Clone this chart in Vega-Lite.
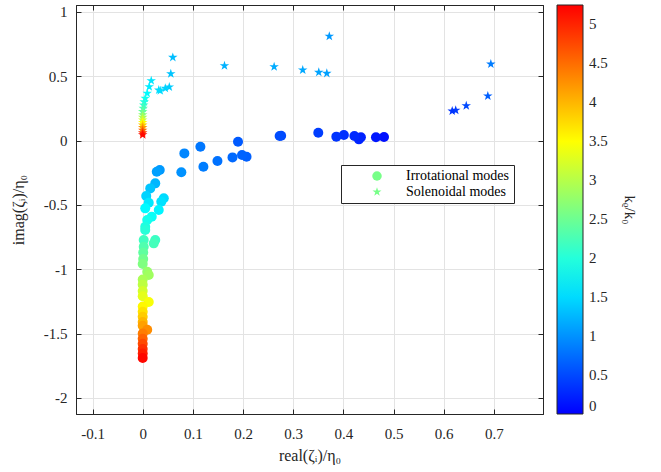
{
  "$schema": "https://vega.github.io/schema/vega-lite/v6.json",
  "width": 467,
  "height": 409,
  "autosize": {"type": "none"},
  "padding": {"left": 76, "top": 5, "right": 118, "bottom": 58},
  "background": "white",
  "config": {
    "font": "Liberation Serif",
    "view": {"stroke": "#262626", "strokeWidth": 1},
    "axis": {
      "labelFontSize": 15,
      "titleFontSize": 16,
      "labelColor": "#262626",
      "titleColor": "#262626",
      "titleFontWeight": "normal",
      "domainColor": "#262626",
      "tickColor": "#262626",
      "gridColor": "#e3e3e3",
      "tickSize": -5
    },
    "legend": {
      "labelColor": "#262626",
      "titleColor": "#262626",
      "titleFontWeight": "normal"
    }
  },
  "datasets": {
    "irrot": [
      {"mode": "Irrotational modes", "x": 0.481, "y": 0.027, "k": 0.10},
      {"mode": "Irrotational modes", "x": 0.465, "y": 0.025, "k": 0.15},
      {"mode": "Irrotational modes", "x": 0.435, "y": 0.025, "k": 0.22},
      {"mode": "Irrotational modes", "x": 0.431, "y": 0.009, "k": 0.25},
      {"mode": "Irrotational modes", "x": 0.422, "y": 0.035, "k": 0.28},
      {"mode": "Irrotational modes", "x": 0.401, "y": 0.043, "k": 0.32},
      {"mode": "Irrotational modes", "x": 0.386, "y": 0.030, "k": 0.36},
      {"mode": "Irrotational modes", "x": 0.350, "y": 0.061, "k": 0.42},
      {"mode": "Irrotational modes", "x": 0.276, "y": 0.037, "k": 0.50},
      {"mode": "Irrotational modes", "x": 0.273, "y": 0.035, "k": 0.52},
      {"mode": "Irrotational modes", "x": 0.190, "y": -0.009, "k": 0.62},
      {"mode": "Irrotational modes", "x": 0.207, "y": -0.126, "k": 0.66},
      {"mode": "Irrotational modes", "x": 0.198, "y": -0.113, "k": 0.68},
      {"mode": "Irrotational modes", "x": 0.179, "y": -0.131, "k": 0.72},
      {"mode": "Irrotational modes", "x": 0.149, "y": -0.159, "k": 0.78},
      {"mode": "Irrotational modes", "x": 0.115, "y": -0.048, "k": 0.82},
      {"mode": "Irrotational modes", "x": 0.121, "y": -0.204, "k": 0.86},
      {"mode": "Irrotational modes", "x": 0.083, "y": -0.100, "k": 0.92},
      {"mode": "Irrotational modes", "x": 0.077, "y": -0.247, "k": 1.00},
      {"mode": "Irrotational modes", "x": 0.034, "y": -0.229, "k": 1.05},
      {"mode": "Irrotational modes", "x": 0.028, "y": -0.242, "k": 1.10},
      {"mode": "Irrotational modes", "x": 0.025, "y": -0.333, "k": 1.25},
      {"mode": "Irrotational modes", "x": 0.015, "y": -0.372, "k": 1.35},
      {"mode": "Irrotational modes", "x": 0.007, "y": -0.431, "k": 1.45},
      {"mode": "Irrotational modes", "x": 0.042, "y": -0.449, "k": 1.50},
      {"mode": "Irrotational modes", "x": 0.037, "y": -0.476, "k": 1.55},
      {"mode": "Irrotational modes", "x": 0.012, "y": -0.483, "k": 1.60},
      {"mode": "Irrotational modes", "x": 0.032, "y": -0.540, "k": 1.68},
      {"mode": "Irrotational modes", "x": 0.005, "y": -0.527, "k": 1.72},
      {"mode": "Irrotational modes", "x": 0.018, "y": -0.592, "k": 1.80},
      {"mode": "Irrotational modes", "x": 0.009, "y": -0.618, "k": 1.88},
      {"mode": "Irrotational modes", "x": 0.005, "y": -0.670, "k": 1.95},
      {"mode": "Irrotational modes", "x": 0.005, "y": -0.695, "k": 2.02},
      {"mode": "Irrotational modes", "x": 0.025, "y": -0.773, "k": 2.15},
      {"mode": "Irrotational modes", "x": 0.002, "y": -0.773, "k": 2.18},
      {"mode": "Irrotational modes", "x": 0.022, "y": -0.799, "k": 2.22},
      {"mode": "Irrotational modes", "x": 0.002, "y": -0.825, "k": 2.30},
      {"mode": "Irrotational modes", "x": 0.001, "y": -0.870, "k": 2.40},
      {"mode": "Irrotational modes", "x": 0.001, "y": -0.920, "k": 2.52},
      {"mode": "Irrotational modes", "x": 0.000, "y": -0.960, "k": 2.62},
      {"mode": "Irrotational modes", "x": 0.009, "y": -1.020, "k": 2.78},
      {"mode": "Irrotational modes", "x": 0.012, "y": -1.045, "k": 2.85},
      {"mode": "Irrotational modes", "x": 0.000, "y": -1.080, "k": 2.92},
      {"mode": "Irrotational modes", "x": 0.000, "y": -1.120, "k": 3.05},
      {"mode": "Irrotational modes", "x": 0.000, "y": -1.170, "k": 3.20},
      {"mode": "Irrotational modes", "x": 0.000, "y": -1.210, "k": 3.32},
      {"mode": "Irrotational modes", "x": 0.012, "y": -1.255, "k": 3.45},
      {"mode": "Irrotational modes", "x": 0.000, "y": -1.290, "k": 3.55},
      {"mode": "Irrotational modes", "x": 0.000, "y": -1.330, "k": 3.70},
      {"mode": "Irrotational modes", "x": 0.000, "y": -1.370, "k": 3.85},
      {"mode": "Irrotational modes", "x": 0.000, "y": -1.410, "k": 4.00},
      {"mode": "Irrotational modes", "x": 0.000, "y": -1.440, "k": 4.15},
      {"mode": "Irrotational modes", "x": 0.009, "y": -1.470, "k": 4.28},
      {"mode": "Irrotational modes", "x": 0.000, "y": -1.500, "k": 4.40},
      {"mode": "Irrotational modes", "x": 0.000, "y": -1.540, "k": 4.58},
      {"mode": "Irrotational modes", "x": 0.000, "y": -1.580, "k": 4.75},
      {"mode": "Irrotational modes", "x": 0.000, "y": -1.620, "k": 4.92},
      {"mode": "Irrotational modes", "x": 0.000, "y": -1.655, "k": 5.05},
      {"mode": "Irrotational modes", "x": 0.000, "y": -1.690, "k": 5.20}
    ],
    "solen": [
      {"mode": "Solenoidal modes", "x": 0.617, "y": 0.229, "k": 0.35},
      {"mode": "Solenoidal modes", "x": 0.624, "y": 0.235, "k": 0.40},
      {"mode": "Solenoidal modes", "x": 0.645, "y": 0.270, "k": 0.50},
      {"mode": "Solenoidal modes", "x": 0.688, "y": 0.346, "k": 0.65},
      {"mode": "Solenoidal modes", "x": 0.694, "y": 0.594, "k": 0.85},
      {"mode": "Solenoidal modes", "x": 0.372, "y": 0.810, "k": 1.05},
      {"mode": "Solenoidal modes", "x": 0.367, "y": 0.522, "k": 1.10},
      {"mode": "Solenoidal modes", "x": 0.351, "y": 0.530, "k": 1.12},
      {"mode": "Solenoidal modes", "x": 0.319, "y": 0.548, "k": 1.15},
      {"mode": "Solenoidal modes", "x": 0.262, "y": 0.573, "k": 1.18},
      {"mode": "Solenoidal modes", "x": 0.163, "y": 0.581, "k": 1.22},
      {"mode": "Solenoidal modes", "x": 0.060, "y": 0.646, "k": 1.30},
      {"mode": "Solenoidal modes", "x": 0.056, "y": 0.519, "k": 1.35},
      {"mode": "Solenoidal modes", "x": 0.053, "y": 0.416, "k": 1.40},
      {"mode": "Solenoidal modes", "x": 0.045, "y": 0.406, "k": 1.45},
      {"mode": "Solenoidal modes", "x": 0.035, "y": 0.387, "k": 1.50},
      {"mode": "Solenoidal modes", "x": 0.032, "y": 0.392, "k": 1.52},
      {"mode": "Solenoidal modes", "x": 0.017, "y": 0.465, "k": 1.58},
      {"mode": "Solenoidal modes", "x": 0.013, "y": 0.418, "k": 1.62},
      {"mode": "Solenoidal modes", "x": 0.009, "y": 0.367, "k": 1.72},
      {"mode": "Solenoidal modes", "x": 0.005, "y": 0.328, "k": 1.85},
      {"mode": "Solenoidal modes", "x": 0.003, "y": 0.300, "k": 1.95},
      {"mode": "Solenoidal modes", "x": 0.002, "y": 0.275, "k": 2.10},
      {"mode": "Solenoidal modes", "x": 0.001, "y": 0.250, "k": 2.25},
      {"mode": "Solenoidal modes", "x": 0.000, "y": 0.225, "k": 2.45},
      {"mode": "Solenoidal modes", "x": 0.000, "y": 0.200, "k": 2.70},
      {"mode": "Solenoidal modes", "x": 0.000, "y": 0.180, "k": 2.95},
      {"mode": "Solenoidal modes", "x": 0.000, "y": 0.160, "k": 3.20},
      {"mode": "Solenoidal modes", "x": 0.000, "y": 0.140, "k": 3.50},
      {"mode": "Solenoidal modes", "x": 0.000, "y": 0.120, "k": 3.85},
      {"mode": "Solenoidal modes", "x": 0.000, "y": 0.100, "k": 4.20},
      {"mode": "Solenoidal modes", "x": 0.000, "y": 0.080, "k": 4.55},
      {"mode": "Solenoidal modes", "x": 0.000, "y": 0.060, "k": 4.90},
      {"mode": "Solenoidal modes", "x": 0.000, "y": 0.045, "k": 5.20}
    ]
  },
  "resolve": {"axis": {"x": "independent", "y": "independent"}},
  "layer": [
    {
      "data": {"name": "irrot"},
      "mark": {"type": "point", "filled": true, "size": 100, "opacity": 1, "strokeWidth": 0},
      "encoding": {
        "x": {
          "field": "x", "type": "quantitative",
          "scale": {"domain": [-0.133, 0.798], "nice": false, "zero": false},
          "axis": {
            "title": "real(ζᵢ)/η₀",
            "values": [-0.1, 0, 0.1, 0.2, 0.3, 0.4, 0.5, 0.6, 0.7],
            "labelExpr": "'' + datum.value",
            "grid": true,
            "labelPadding": 17,
            "titlePadding": 6
          }
        },
        "y": {
          "field": "y", "type": "quantitative",
          "scale": {"domain": [-2.125, 1.053], "nice": false, "zero": false},
          "axis": {
            "title": "imag(ζᵢ)/η₀",
            "values": [-2, -1.5, -1, -0.5, 0, 0.5, 1],
            "labelExpr": "'' + datum.value",
            "grid": true,
            "labelPadding": 14,
            "titlePadding": 17
          }
        },
        "color": {
          "field": "k", "type": "quantitative",
          "scale": {
            "domain": [0, 1.75, 3.5, 5.25],
            "range": ["#0000ff", "#00ffff", "#ffff00", "#ff0000"],
            "interpolate": "rgb"
          },
          "legend": {
            "orient": "right",
            "offset": 13,
            "direction": "vertical",
            "gradientLength": 409,
            "gradientThickness": 26,
            "gradientStrokeColor": "#262626",
            "gradientStrokeWidth": 1,
            "values": [0, 0.5, 1, 1.5, 2, 2.5, 3, 3.5, 4, 4.5, 5],
            "labelExpr": "'' + datum.value",
            "labelFontSize": 15,
            "labelOffset": 6,
            "labelBaseline": "middle",
            "labelOverlap": false,
            "title": "kᵨ/k₀",
            "titleFontSize": 15,
            "titleOrient": "right",
            "titleAnchor": "middle",
            "titleAlign": "center",
            "titleBaseline": "middle",
            "titlePadding": 22,
            "encode": {
              "title": {"update": {"angle": {"value": -90}}}
            }
          }
        },
        "shape": {
          "field": "mode", "type": "nominal",
          "scale": {
            "domain": ["Irrotational modes", "Solenoidal modes"],
            "range": ["circle", "M0,-1L0.225,-0.309L0.951,-0.309L0.363,0.118L0.588,0.809L0,0.382L-0.588,0.809L-0.363,0.118L-0.951,-0.309L-0.225,-0.309Z"]
          },
          "legend": {
            "orient": "none",
            "legendX": 265,
            "legendY": 160,
            "title": null,
            "labelFontSize": 14,
            "labelColor": "#000000",
            "symbolSize": 90,
            "symbolStrokeWidth": 0,
            "symbolFillColor": "#77ff88",
            "symbolStrokeColor": "#77ff88",
            "padding": 4,
            "rowPadding": 2,
            "symbolOffset": 25,
            "labelOffset": 22,
            "strokeColor": "#262626",
            "fillColor": "white"
          }
        }
      }
    },
    {
      "data": {"name": "solen"},
      "mark": {"type": "point", "filled": true, "size": 100, "opacity": 1, "strokeWidth": 0},
      "encoding": {
        "x": {
          "field": "x", "type": "quantitative",
          "axis": {"orient": "top", "labels": false, "grid": false, "title": null, "values": [-0.1, 0, 0.1, 0.2, 0.3, 0.4, 0.5, 0.6, 0.7]}
        },
        "y": {
          "field": "y", "type": "quantitative",
          "axis": {"orient": "right", "labels": false, "grid": false, "title": null, "values": [-2, -1.5, -1, -0.5, 0, 0.5, 1]}
        },
        "color": {"field": "k", "type": "quantitative"},
        "shape": {"field": "mode", "type": "nominal"}
      }
    }
  ]
}
